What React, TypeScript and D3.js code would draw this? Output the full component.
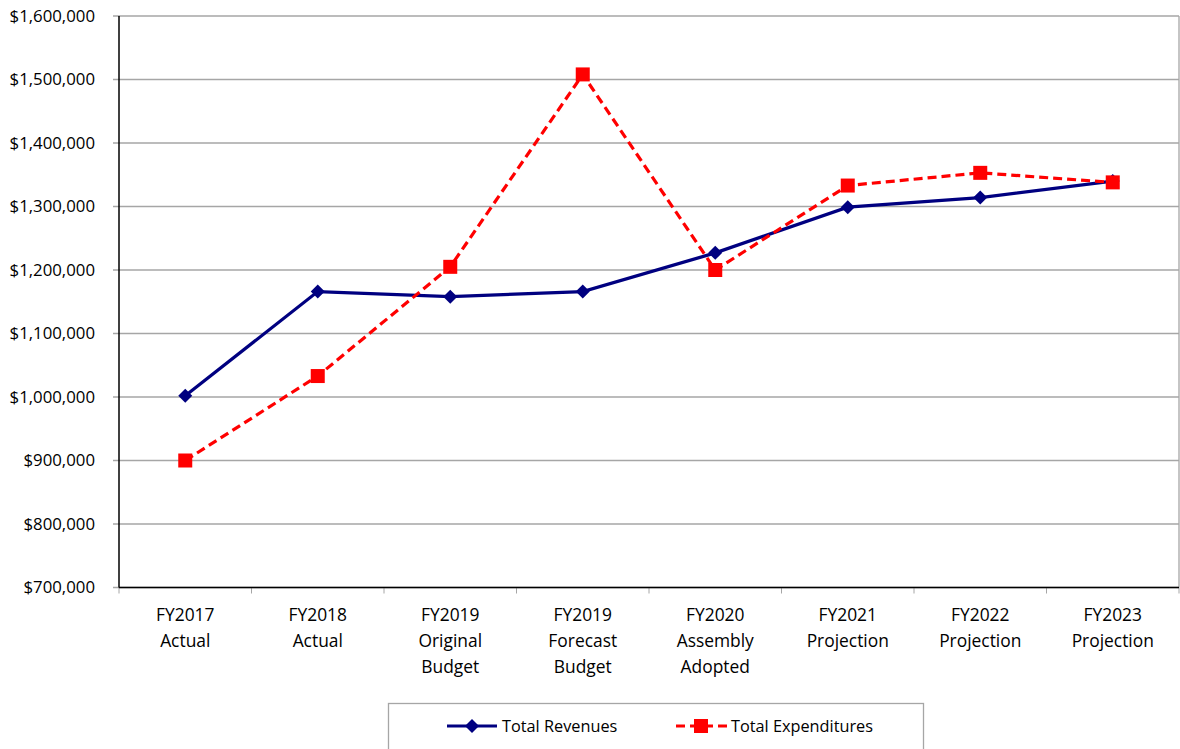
import React from "react";
import * as d3 from "d3";

const categories: string[][] = [
  ["FY2017", "Actual"],
  ["FY2018", "Actual"],
  ["FY2019", "Original", "Budget"],
  ["FY2019", "Forecast", "Budget"],
  ["FY2020", "Assembly", "Adopted"],
  ["FY2021", "Projection"],
  ["FY2022", "Projection"],
  ["FY2023", "Projection"],
];
const revenues: number[] = [1002000, 1166000, 1158000, 1166000, 1227000, 1299000, 1314000, 1340000];
const expenditures: number[] = [900000, 1033000, 1205000, 1508000, 1200000, 1333000, 1353000, 1338000];
const yTicks: number[] = [700000, 800000, 900000, 1000000, 1100000, 1200000, 1300000, 1400000, 1500000, 1600000];
const seriesNames: string[] = ["Total Revenues", "Total Expenditures"];

const W = 1180;
const H = 749;
const left = 119;
const right = 1179;
const top = 16;
const bottom = 587.5;
const FONT = "'Open Sans', 'Noto Sans', sans-serif";

export default function App() {
  const idx = categories.map((_, i) => String(i));
  const x = d3.scaleBand<string>().domain(idx).range([left, right]).padding(0);
  const y = d3.scaleLinear().domain([700000, 1600000]).range([bottom, top]);
  const cx = (i: number) => (x(String(i)) as number) + x.bandwidth() / 2;
  const line = d3
    .line<number>()
    .x((_, i) => cx(i))
    .y((d) => y(d));
  const fmt = (v: number) => "$" + d3.format(",")(v);
  const diamond = d3.symbol().type(d3.symbolDiamond2).size(125)();
  const sq = 14;

  return (
    <svg
      width={W}
      height={H}
      style={{ position: "absolute", left: 0, top: 0, background: "#fff" }}
      fontFamily={FONT}
    >
      {yTicks.map((t) => (
        <line key={t} x1={113} x2={right} y1={y(t)} y2={y(t)} stroke="#a6a6a6" strokeWidth={1.3} />
      ))}
      <line x1={right} x2={right} y1={top} y2={bottom} stroke="#a6a6a6" strokeWidth={1.3} />
      {d3.range(categories.length + 1).map((i) => {
        const xx = i < categories.length ? (x(String(i)) as number) : right;
        return <line key={i} x1={xx} x2={xx} y1={bottom} y2={bottom + 6} stroke="#a6a6a6" strokeWidth={1} />;
      })}
      <line x1={left} x2={left} y1={top} y2={bottom} stroke="#000" strokeWidth={1.5} />
      <line x1={left} x2={right} y1={bottom} y2={bottom} stroke="#000" strokeWidth={1.5} />
      {yTicks.map((t) => (
        <text key={t} x={95} y={y(t)} dy="0.35em" textAnchor="end" fontSize={16.8} fill="#000">
          {fmt(t)}
        </text>
      ))}
      {categories.map((lines, i) => (
        <text key={i} x={cx(i)} y={621} textAnchor="middle" fontSize={17.4} fill="#000">
          {lines.map((l, j) => (
            <tspan key={j} x={cx(i)} y={621 + j * 26}>
              {l}
            </tspan>
          ))}
        </text>
      ))}
      <path d={line(revenues) || ""} fill="none" stroke="#000080" strokeWidth={3.2} />
      <path d={line(expenditures) || ""} fill="none" stroke="#ff0000" strokeWidth={3.2} strokeDasharray="9,5" />
      {revenues.map((v, i) => (
        <path key={i} d={diamond || ""} transform={`translate(${cx(i)},${y(v)})`} fill="#000080" />
      ))}
      {expenditures.map((v, i) => (
        <rect key={i} x={cx(i) - sq / 2} y={y(v) - sq / 2} width={sq} height={sq} fill="#ff0000" />
      ))}
      <rect x={388.5} y={703.5} width={535} height={60} fill="#fff" stroke="#a6a6a6" strokeWidth={1.3} />
      <line x1={447} x2={497} y1={726} y2={726} stroke="#000080" strokeWidth={3.2} />
      <path d={diamond || ""} transform={`translate(472,726)`} fill="#000080" />
      <text x={502} y={726} dy="0.35em" fontSize={16.3} fill="#000">
        {seriesNames[0]}
      </text>
      <line x1={676} x2={727} y1={726} y2={726} stroke="#ff0000" strokeWidth={3.2} strokeDasharray="9,5" />
      <rect x={701 - 7} y={726 - 7} width={14} height={14} fill="#ff0000" />
      <text x={731} y={726} dy="0.35em" fontSize={16.3} fill="#000">
        {seriesNames[1]}
      </text>
    </svg>
  );
}
